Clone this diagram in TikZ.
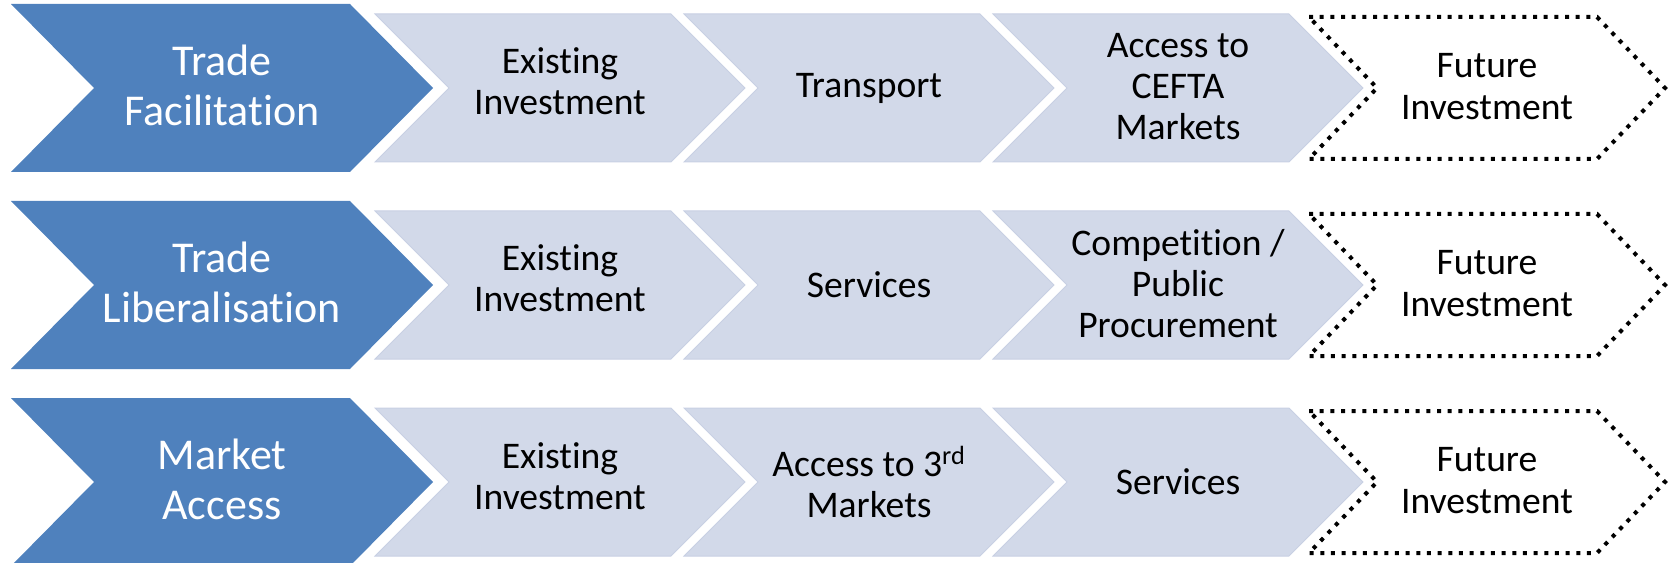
\documentclass[tikz,border=0pt]{standalone}
\usepackage{fontspec}
\setmainfont{Carlito}[Ligatures={NoCommon,NoRequired,NoContextual},
  Contextuals=NoAlternate]
\definecolor{accentblue}{RGB}{79,129,189}
\definecolor{paleblue}{RGB}{210,217,233}
\definecolor{paleedge}{RGB}{200,208,227}
% chevron: style, left x, centre y, body width, half height, point depth
\newcommand\chevshape[6]{%
  \path[#1] (#2,{#3-#5}) -- ++(#4,0) -- ++(#6,#5) -- ++(-#6,#5)
    -- ++(-#4,0) -- ++(#6,-#5) -- cycle;}
\begin{document}
\begin{tikzpicture}[x=0.75pt,y=-0.75pt,
  headshape/.style={fill=accentblue},
  stepshape/.style={fill=paleblue,draw=paleedge,line width=0.75pt},
  futureshape/.style={draw=black,line width=3pt,dash pattern=on 3pt off 5pt},
  headtext/.style={text=white,align=center,inner sep=0pt,
    font=\fontsize{33}{37.5}\selectfont},
  steptext/.style={text=black,align=center,inner sep=0pt,
    font=\fontsize{28.2}{31}\selectfont}]
\useasboundingbox (0,0) rectangle (1671,563);

% three rows, centres at y = 88, 285, 482
\foreach \cy in {88,285,482}{
  \chevshape{headshape}{11}{\cy}{339}{84}{83}
  \chevshape{stepshape}{375}{\cy}{296}{74}{74}
  \chevshape{stepshape}{684}{\cy}{296}{74}{74}
  \chevshape{stepshape}{993}{\cy}{296}{74}{74}
  \chevshape{futureshape}{1309}{\cy}{288}{71}{68}
}

% row 1
\node[headtext] (tf)  at (222,85)    {Trade\\Facilitation};
\node[steptext] (tf1) at (560,81)    {Existing\\Investment};
\node[steptext] (tf2) at (869,88)    {Transport};
\node[steptext] (tf3) at (1178,86.5) {Access to\\CEFTA\\Markets};
\node[steptext] (tf4) at (1487,86.5) {Future\\Investment};

% row 2
\node[headtext] (tl)  at (222,282)    {Trade\\Liberalisation};
\node[steptext] (tl1) at (560,278)    {Existing\\Investment};
\node[steptext] (tl2) at (869,285)    {Services};
\node[steptext] (tl3) at (1178,283.5) {Competition /\\Public\\Procurement};
\node[steptext] (tl4) at (1487,283.5) {Future\\Investment};

% row 3
\node[headtext] (ma)  at (222,479)    {Market\\Access};
\node[steptext] (ma1) at (560,476)    {Existing\\Investment};
\node[steptext] (ma2) at (869,482)    {Access to 3\textsuperscript{rd}\\Markets};
\node[steptext] (ma3) at (1178,482)   {Services};
\node[steptext] (ma4) at (1487,480.5) {Future\\Investment};
\end{tikzpicture}
\end{document}
